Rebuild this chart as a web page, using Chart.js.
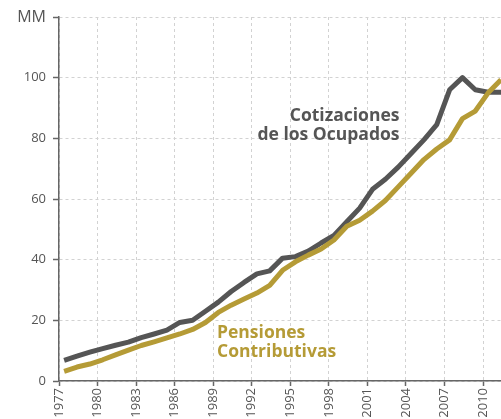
<!DOCTYPE html>
<html>
<head>
<meta charset="utf-8">
<script src="https://cdn.jsdelivr.net/npm/chart.js@4"></script>
<style>
  html, body { margin: 0; padding: 0; background: #fff; }
  #wrap { width: 501px; height: 419px; }
</style>
</head>
<body>
<div id="wrap"><canvas id="chart"></canvas></div>
<script>
// annual figures, billions (MM) of euros
const years = [1977, 1978, 1979, 1980, 1981, 1982, 1983, 1984, 1985, 1986, 1987, 1988,
    1989, 1990, 1991, 1992, 1993, 1994, 1995, 1996, 1997, 1998, 1999, 2000,
    2001, 2002, 2003, 2004, 2005, 2006, 2007, 2008, 2009, 2010, 2011];
const cotizaciones = [6.8, 8.2, 9.5, 10.7, 11.8, 12.8, 14.3, 15.5, 16.8, 19.3, 20, 23,
    26, 29.5, 32.5, 35.3, 36.3, 40.5, 41, 42.8, 45.5, 48, 52.5, 57,
    63.2, 66.5, 70.5, 75, 79.5, 84.5, 96, 100, 96, 95.2, 95.2];
const pensiones = [3.2, 4.6, 5.6, 7.0, 8.6, 10.2, 11.7, 12.9, 14.2, 15.5, 17.0, 19.3,
    22.6, 25, 27, 29, 31.5, 36.5, 39.3, 41.5, 43.5, 46.5, 51, 53,
    56, 59.5, 64, 68.5, 73, 76.5, 79.5, 86.5, 89, 95, 99.3];
const yTicks = [0, 20, 40, 60, 80, 100, 120];
const yUnit = 'MM';

const GRAY = '#555555';
const GOLD = '#b59b36';
const FONT = '"Open Sans", "DejaVu Sans", sans-serif';

// values are mid-year
const toPoints = arr => arr.map((v, i) => ({ x: years[i] + 0.4, y: v }));

const labelsPlugin = {
    id: 'seriesLabels',
    afterDatasetsDraw(chart) {
        const { ctx, scales: { x, y } } = chart;
        ctx.save();
        ctx.font = 'bold 17.5px ' + FONT;
        ctx.textBaseline = 'middle';

        ctx.fillStyle = GRAY;
        ctx.textAlign = 'right';
        ctx.fillText('Cotizaciones', x.getPixelForValue(2003.5), y.getPixelForValue(87.5));
        ctx.fillText('de los Ocupados', x.getPixelForValue(2003.5), y.getPixelForValue(81.2));

        ctx.fillStyle = GOLD;
        ctx.textAlign = 'left';
        ctx.fillText('Pensiones', x.getPixelForValue(1989.3), y.getPixelForValue(15.8));
        ctx.fillText('Contributivas', x.getPixelForValue(1989.3), y.getPixelForValue(9.6));
        ctx.restore();
    }
};

new Chart(document.getElementById('chart'), {
    type: 'line',
    data: {
        datasets: [{
            label: 'Cotizaciones de los Ocupados',
            data: toPoints(cotizaciones),
            borderColor: GRAY,
            borderWidth: 5,
            order: 1
        }, {
            label: 'Pensiones Contributivas',
            data: toPoints(pensiones),
            borderColor: GOLD,
            borderWidth: 5,
            order: 0
        }]
    },
    options: {
        responsive: true,
        maintainAspectRatio: false,
        animation: false,
        layout: { padding: { top: 17, right: 0, left: 0, bottom: 0 } },
        elements: {
            point: { radius: 0 },
            line: { tension: 0, borderJoinStyle: 'round', borderCapStyle: 'butt' }
        },
        plugins: {
            legend: { display: false },
            tooltip: { enabled: false }
        },
        scales: {
            x: {
                type: 'linear',
                min: years[0],
                max: years[years.length - 1] + 0.4,
                afterFit(scale) { scale.height = 38; },
                border: { color: '#666', width: 1.5, dash: [3, 3] },
                grid: {
                    color: '#d2d2d2',
                    lineWidth: 1,
                    tickLength: 5,
                    tickColor: '#666',
                    tickWidth: 1.5,
                    tickBorderDash: []
                },
                ticks: {
                    stepSize: 3,
                    includeBounds: false,
                    autoSkip: false,
                    minRotation: 90,
                    maxRotation: 90,
                    padding: 2,
                    color: '#555',
                    font: { family: FONT, size: 13 },
                    callback: v => String(v)
                }
            },
            y: {
                min: yTicks[0],
                max: yTicks[yTicks.length - 1],
                afterFit(scale) { scale.width = 59; },
                afterBuildTicks(scale) { scale.ticks = yTicks.map(v => ({ value: v })); },
                border: { color: '#666', width: 1.5, dash: [3, 3] },
                grid: {
                    color: '#d2d2d2',
                    lineWidth: 1,
                    tickLength: 6,
                    tickColor: '#666',
                    tickWidth: 1.5,
                    tickBorderDash: []
                },
                ticks: {
                    padding: 7,
                    color: '#555',
                    font: ctx => ({ family: FONT, size: ctx.tick && ctx.tick.value === 120 ? 16 : 13 }),
                    callback: v => v === 120 ? yUnit : v
                }
            }
        }
    },
    plugins: [labelsPlugin]
});
</script>
</body>
</html>
